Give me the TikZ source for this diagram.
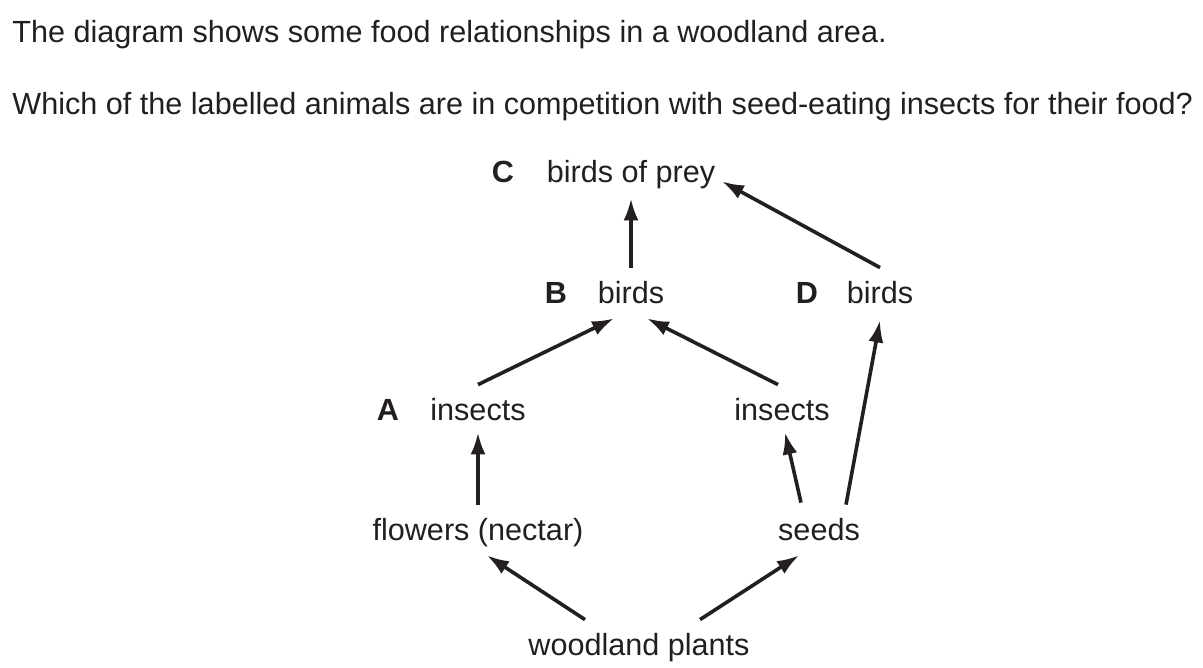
\documentclass[tikz,border=0pt]{standalone}
\usepackage{fontspec}
\setmainfont{Liberation Sans}
\usepackage{tikz}
\usetikzlibrary{arrows.meta}
\definecolor{ink}{HTML}{231F20}
\newcommand{\webfont}{\fontsize{15.3}{18}\selectfont}
\tikzset{
  lbl/.style={inner sep=0pt, text height=10pt, text depth=3pt, anchor=base, text=ink, font=\webfont},
  letter/.style={lbl, font=\webfont\bfseries},
  feeds/.style={draw=ink, line width=1.8pt, -{Latex[length=11pt,width=7.5pt]}}
}
\begin{document}
\begin{tikzpicture}[x=0.5pt,y=-0.5pt]
\useasboundingbox (0,0) rectangle (1203,668);
% question
\node[lbl, anchor=base west] (q1) at (12,43) {The diagram shows some food relationships in a woodland area.};
\node[lbl, anchor=base west] (q2) at (12,115) {Which of the labelled animals are in competition with seed-eating insects for their food?};
% food web
\node[letter] (C) at (503,183) {C};
\node[lbl] (prey) at (631,183) {birds of prey};
\node[letter] (B) at (556,303) {B};
\node[lbl] (birdsB) at (631,303) {birds};
\node[letter] (D) at (807,303) {D};
\node[lbl] (birdsD) at (880,303) {birds};
\node[letter] (A) at (388,420) {A};
\node[lbl] (insA) at (478,420) {insects};
\node[lbl] (insR) at (782,420) {insects};
\node[lbl] (flowers) at (478,540) {flowers (nectar)};
\node[lbl] (seeds) at (819,540) {seeds};
\node[lbl] (plants) at (639,655) {woodland plants};

\draw[feeds] ([yshift=7.5pt]birdsB.north) -- ([yshift=-4.5pt]prey.south);
\draw[feeds] ([yshift=7.5pt]birdsD.north) -- ([xshift=45.5pt,yshift=4pt]prey.south);
\draw[feeds] ([yshift=7.5pt]insA.north) -- ([xshift=-8.5pt,yshift=-4.5pt]birdsB.south);
\draw[feeds] ([xshift=-2pt,yshift=7.5pt]insR.north) -- ([xshift=8pt,yshift=-4.5pt]birdsB.south);
\draw[feeds] ([xshift=13.5pt,yshift=7.5pt]seeds.north) -- ([yshift=-5.5pt]birdsD.south);
\draw[feeds] ([xshift=-9pt,yshift=8.5pt]seeds.north) -- ([xshift=1.5pt,yshift=-3pt]insR.south);
\draw[feeds] ([yshift=7.5pt]flowers.north) -- ([yshift=-3pt]insA.south);
\draw[feeds] ([xshift=-27pt,yshift=7.5pt]plants.north) -- ([xshift=4.5pt,yshift=-4.5pt]flowers.south);
\draw[feeds] ([xshift=30.5pt,yshift=7.5pt]plants.north) -- ([xshift=-10pt,yshift=-4.5pt]seeds.south);
\end{tikzpicture}
\end{document}
